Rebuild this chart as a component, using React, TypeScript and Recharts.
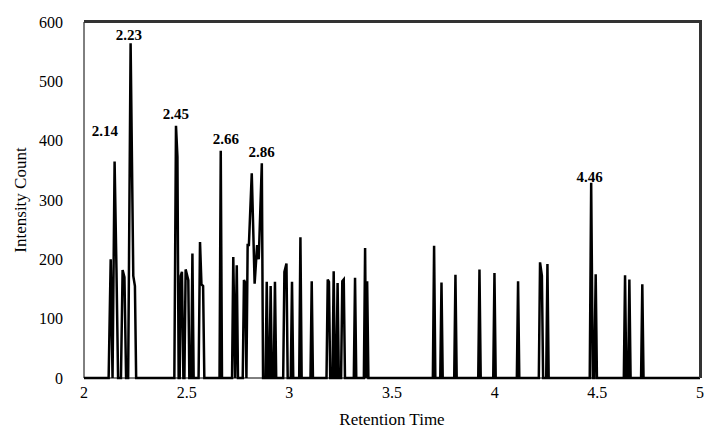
import React from "react"
import {
  LineChart,
  Line,
  XAxis,
  YAxis,
  ReferenceDot,
} from "recharts"

// retention time (min) / intensity
const times = [
  2.0, 2.12, 2.13, 2.139, 2.149, 2.158, 2.166, 2.18, 2.188, 2.197, 2.205, 2.215, 2.227, 2.24, 2.248, 2.254,
  2.44, 2.448, 2.455, 2.461, 2.466, 2.471, 2.477, 2.484, 2.489, 2.495, 2.503, 2.508, 2.513, 2.522, 2.528, 2.534, 2.558, 2.565, 2.572, 2.58, 2.586,
  2.66, 2.666, 2.672, 2.721, 2.727, 2.736, 2.744, 2.75,
  2.773, 2.779, 2.786, 2.791, 2.797, 2.803, 2.817, 2.831, 2.843, 2.851, 2.866, 2.872,
  2.884, 2.89, 2.896, 2.903, 2.909, 2.915, 2.924, 2.93, 2.936, 2.97, 2.976, 2.986, 2.992, 3.007, 3.013, 3.019, 3.048, 3.054, 3.06, 3.103, 3.109, 3.115,
  3.181, 3.187, 3.193, 3.199, 3.21, 3.216, 3.222, 3.229, 3.235, 3.241, 3.252, 3.258, 3.265, 3.271, 3.314, 3.32, 3.326, 3.363, 3.369, 3.374, 3.379, 3.385,
  3.699, 3.705, 3.711, 3.735, 3.741, 3.747, 3.803, 3.809, 3.815, 3.92, 3.926, 3.932, 3.993, 3.999, 4.005, 4.108, 4.114, 4.12, 4.215, 4.221, 4.23, 4.236, 4.251, 4.257, 4.263,
  4.463, 4.47, 4.478, 4.485, 4.492, 4.498, 4.629, 4.635, 4.641, 4.65, 4.656, 4.662, 4.713, 4.719, 4.725, 5.0,
]

const intensity = [
  0, 0, 200, 0, 365, 185, 0, 0, 182, 170, 0, 0, 564, 172, 155, 0,
  0, 425, 373, 0, 0, 172, 179, 0, 0, 183, 172, 165, 0, 0, 210, 0, 0, 229, 158, 155, 0,
  0, 383, 0, 0, 204, 0, 190, 0,
  0, 165, 160, 0, 224, 224, 345, 159, 224, 200, 362, 0,
  0, 162, 0, 0, 155, 0, 0, 162, 0, 0, 179, 193, 0, 0, 162, 0, 0, 237, 0, 0, 163, 0,
  0, 166, 162, 0, 0, 180, 0, 0, 160, 0, 0, 163, 166, 0, 0, 169, 0, 0, 219, 0, 163, 0,
  0, 223, 0, 0, 161, 0, 0, 174, 0, 0, 183, 0, 0, 177, 0, 0, 163, 0, 0, 195, 172, 0, 0, 192, 0,
  0, 329, 0, 0, 175, 0, 0, 173, 0, 0, 166, 0, 0, 158, 0, 0,
]

// peak annotations (text + where the text sits, in data units)
const peakLabels = ["2.14", "2.23", "2.45", "2.66", "2.86", "4.46"]
const labelTimes = [2.102, 2.219, 2.447, 2.691, 2.865, 4.462]
const labelHeights = [416, 578, 446, 404, 382, 340]

const xTicks = [2, 2.5, 3, 3.5, 4, 4.5, 5]
const yTicks = [0, 100, 200, 300, 400, 500, 600]

const chartData = times.map((t, i) => ({ t, v: intensity[i] }))

const FONT = '"Liberation Serif", "Times New Roman", serif'

const W = 705
const H = 435
const margin = { top: 22, right: 5, bottom: 0, left: 0 }
const yAxisW = 84
const xAxisH = 57

const XTick = (props: any) => {
  const { x, y, payload } = props
  return (
    <text x={x} y={y + 18} textAnchor="middle" fill="#000" fontSize={16} fontFamily={FONT}>
      {payload.value}
    </text>
  )
}

const YTick = (props: any) => {
  const { x, y, payload } = props
  return (
    <text x={x - 19} y={y} textAnchor="end" dominantBaseline="central" fill="#000" fontSize={16} fontFamily={FONT}>
      {payload.value}
    </text>
  )
}

const YTitle = (props: any) => {
  const { viewBox } = props
  const cx = viewBox.x + 20
  const cy = viewBox.y + viewBox.height / 2
  return (
    <text
      x={cx}
      y={cy}
      transform={`rotate(-90 ${cx} ${cy})`}
      textAnchor="middle"
      dominantBaseline="central"
      fill="#000"
      fontSize={17}
      fontFamily={FONT}
    >
      Intensity Count
    </text>
  )
}

export default function App() {
  return (
    <div style={{ position: "absolute", left: 0, top: 0, width: W, height: H, background: "#fff", fontFamily: FONT }}>
      <LineChart width={W} height={H} data={chartData} margin={margin}>
        <XAxis
          dataKey="t"
          type="number"
          domain={[2, 5]}
          ticks={xTicks}
          allowDataOverflow
          height={xAxisH}
          tick={<XTick />}
          tickLine={false}
          tickSize={0}
          axisLine={{ stroke: "#000" }}
          label={{
            value: "Retention Time",
            position: "insideBottom",
            offset: 10,
            fill: "#000",
            fontSize: 17,
            fontFamily: FONT,
          }}
        />
        <YAxis
          type="number"
          domain={[0, 600]}
          ticks={yTicks}
          width={yAxisW}
          tick={<YTick />}
          tickLine={false}
          tickSize={0}
          axisLine={{ stroke: "#000" }}
          label={{ content: YTitle }}
        />
        <Line
          type="linear"
          dataKey="v"
          stroke="#000"
          strokeWidth={2.5}
          dot={false}
          activeDot={false}
          isAnimationActive={false}
        />
        {peakLabels.map((txt, i) => (
          <ReferenceDot
            key={txt}
            x={labelTimes[i]}
            y={labelHeights[i]}
            r={0}
            fill="none"
            stroke="none"
            label={{
              value: txt,
              position: "center",
              fill: "#000",
              fontSize: 15,
              fontWeight: "bold",
              fontFamily: FONT,
            }}
          />
        ))}
      </LineChart>
      {/* plot frame (top / right edges), laid over the plot box */}
      <div
        style={{
          position: "absolute",
          left: margin.left + yAxisW,
          top: margin.top - 2,
          width: W - margin.left - margin.right - yAxisW + 2,
          height: H - margin.top - margin.bottom - xAxisH + 2,
          boxSizing: "border-box",
          borderTop: "3px solid #333",
          borderRight: "3px solid #333",
          pointerEvents: "none",
        }}
      />
    </div>
  )
}
